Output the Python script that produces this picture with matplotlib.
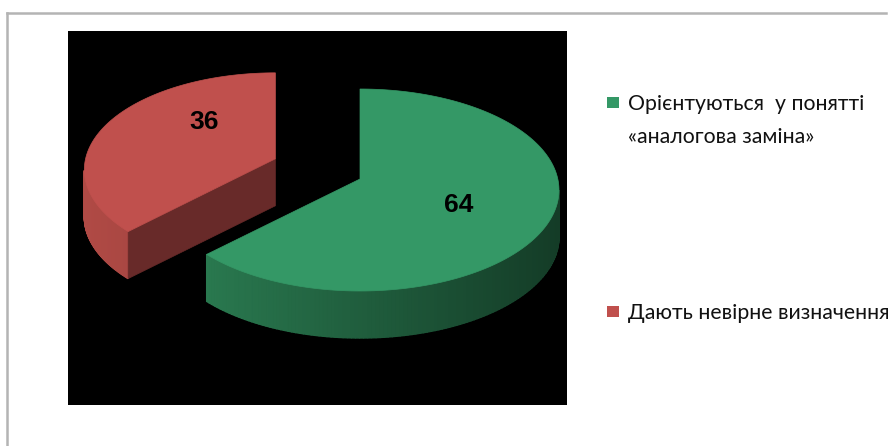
import numpy as np
import matplotlib
matplotlib.use("Agg")
import matplotlib.pyplot as plt
from matplotlib.patches import Polygon
from matplotlib.lines import Line2D
from matplotlib.colors import to_rgb

# ---- data ----
labels = ["Орієнтуються  у понятті\n«аналогова заміна»", "Дають невірне визначення"]
values = [64, 36]
top_colors = ["#349866", "#c0504d"]
side_light = ["#2c8054", "#b04a45"]
side_dark = ["#143c27", "#7a3230"]
cut_colors = ["#1f5a3a", "#682a29"]
explode = [0.0, 0.47]

W, H = 889, 446
fig = plt.figure(figsize=(W / 100, H / 100), dpi=100)
fig.patch.set_facecolor("white")

# figure frame (gray)
fig.add_artist(Line2D([7 / W, 7 / W], [0, 1 - 12.5 / H], color="#b4b4b4", lw=1.8, transform=fig.transFigure))
fig.add_artist(Line2D([7 / W, 886 / W], [1 - 12.5 / H, 1 - 12.5 / H], color="#b4b4b4", lw=1.8, transform=fig.transFigure))

# plot area (pixel-like coordinates, y down)
x0, x1, y0, y1 = 68, 567, 31, 405
ax = fig.add_axes([x0 / W, 1 - y1 / H, (x1 - x0) / W, (y1 - y0) / H])
ax.set_facecolor("black")
ax.set_xlim(x0, x1)
ax.set_ylim(y1, y0)
ax.set_xticks([])
ax.set_yticks([])
for s in ax.spines.values():
    s.set_visible(False)

cx, cy, rx0, ry0, depth = 360.0, 190.0, 199.0, 101.0, 47.0
apex_lift = 11.0          # perspective: pie centre projects above ellipse centre
label_fx = [0.55, 0.41]
label_fy = [0.60, 0.88]

def mix(a, b, f):
    a, b = np.array(to_rgb(a)), np.array(to_rgb(b))
    return tuple(a * (1 - f) + b * f)

total = float(sum(values))
slices = []
ang = np.pi / 2
for i, v in enumerate(values):
    sweep = 2 * np.pi * v / total
    t2 = ang
    t1 = ang - sweep
    ang = t1
    mid = (t1 + t2) / 2
    c = (cx + explode[i] * rx0 * np.cos(mid), cy - explode[i] * ry0 * np.sin(mid))
    sc = 1.0 - 0.2 * (cy - c[1]) / ry0
    slices.append((i, t1, t2, c, mid, rx0 * sc, ry0 * sc))

order = sorted(slices, key=lambda s: s[3][1])
for i, t1, t2, c, mid, rx, ry in order:
    def pt(t, dz=0.0):
        return (c[0] + rx * np.cos(t), c[1] - ry * np.sin(t) + dz)
    apex = (c[0], c[1] - apex_lift)
    # outer curved side: one base polygon, then gradient strips on top
    a = t1 % (2 * np.pi)
    b = a + (t2 - t1)
    ts = np.linspace(a, b, 400)
    seg_t = ts[np.sin(ts) < 0]
    if len(seg_t) > 1:
        tt_all = np.linspace(seg_t.min(), seg_t.max(), 300)
        base = [pt(t) for t in tt_all] + [pt(t, depth) for t in tt_all[::-1]]
        fmid = (np.cos(tt_all.mean()) + 1) / 2
        ax.add_patch(Polygon(base, closed=True, facecolor=mix(side_light[i], side_dark[i], fmid),
                             edgecolor="none", zorder=2))
        n = 120
        edges = np.linspace(seg_t.min(), seg_t.max(), n + 1)
        for k in range(n):
            tt = np.linspace(edges[k], edges[k + 1], 4)
            top = [pt(t) for t in tt]
            bot = [pt(t, depth) for t in tt[::-1]]
            f = (np.cos(0.5 * (edges[k] + edges[k + 1])) + 1) / 2
            col = mix(side_light[i], side_dark[i], f)
            ax.add_patch(Polygon(top + bot, closed=True, facecolor=col, edgecolor=col, lw=1.0, zorder=2.1))
    # radial cut faces
    for edge_t, sign in ((t1, -1), (t2, 1)):
        normal = edge_t + sign * np.pi / 2
        if np.sin(normal) < -0.05:
            p = pt(edge_t)
            quad = [apex, p, (p[0], p[1] + depth), (apex[0], apex[1] + depth)]
            ax.add_patch(Polygon(quad, closed=True, facecolor=cut_colors[i], edgecolor=cut_colors[i], lw=0.5, zorder=2.2))
    # top face
    tt = np.linspace(t1, t2, 200)
    poly = [apex] + [pt(t) for t in tt]
    ax.add_patch(Polygon(poly, closed=True, facecolor=top_colors[i], edgecolor=top_colors[i], lw=0.5, zorder=3))
    # data label
    lx = apex[0] + label_fx[i] * rx * np.cos(mid)
    ly = apex[1] - label_fy[i] * ry * np.sin(mid)
    ax.text(lx, ly, str(values[i]), ha="center", va="center", fontsize=19,
            fontweight="bold", family=["Liberation Sans", "DejaVu Sans"], color="black", zorder=5)

# legend
fam = ["Lato", "Open Sans", "DejaVu Sans"]
leg_y = [102, 311]
for i in range(len(values)):
    fig.add_artist(plt.Rectangle((607 / W, 1 - (leg_y[i] + 6) / H), 12 / W, 11 / H,
                                 facecolor=top_colors[i], edgecolor="none", transform=fig.transFigure))
    lines = labels[i].split("\n")
    for j, line in enumerate(lines):
        fig.text(628 / W, 1 - (leg_y[i] + 33 * j) / H, line, ha="left", va="center_baseline",
                 fontsize=15.3, family=fam, color="#111111")

fig.savefig("out.png", dpi=100, facecolor="white")
